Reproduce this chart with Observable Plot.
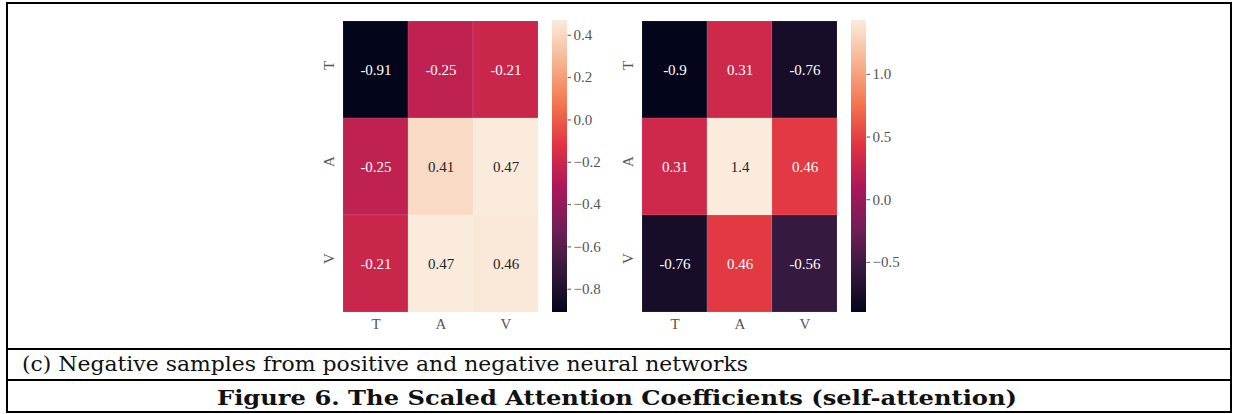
<!DOCTYPE html>
<html>
<head>
<meta charset="utf-8">
<script src="https://cdn.jsdelivr.net/npm/d3@7"></script>
<script src="https://cdn.jsdelivr.net/npm/@observablehq/plot@0.6"></script>
<style>
  html, body { margin: 0; padding: 0; background: #fff; }
  #page { position: relative; width: 1233px; height: 414px; overflow: hidden; }
  .line { position: absolute; background: #000; }
  #page svg text { font-family: "Liberation Serif", "Times New Roman", Tinos, serif !important; }
  #caption { position: absolute; left: 22px; top: 350px; font-family: "DejaVu Serif", serif; font-size: 21px; color: #111; white-space: nowrap; line-height: 29px; transform-origin: 0 50%; }
  #title { position: absolute; left: 0; top: 383px; font-family: "DejaVu Serif", serif; font-weight: bold; font-size: 21px; color: #111; white-space: nowrap; line-height: 30px; transform-origin: 0 50%; }
</style>
</head>
<body>
<div id="page">
  <div id="caption">(c) Negative samples from positive and negative neural networks</div>
  <div id="title">Figure 6. The Scaled Attention Coefficients (self-attention)</div>
  <div class="line" style="left:6px;top:2px;width:1226px;height:2px"></div>
  <div class="line" style="left:6px;top:2px;width:2px;height:411px"></div>
  <div class="line" style="left:1230px;top:2px;width:2px;height:411px"></div>
  <div class="line" style="left:6px;top:348px;width:1226px;height:2px"></div>
  <div class="line" style="left:6px;top:379px;width:1226px;height:2px"></div>
  <div class="line" style="left:6px;top:411px;width:1226px;height:2px"></div>
</div>
<script>
// ---- data ----
const rowLabels = ["T", "A", "V"];
const colLabels = ["T", "A", "V"];
// left panel
const panel1Values = [
  [-0.91, -0.25, -0.21],
  [-0.25,  0.41,  0.47],
  [-0.21,  0.47,  0.46]
];
// right panel
const panel2Values = [
  [-0.90,  0.31, -0.76],
  [ 0.31,  1.43,  0.46],
  [-0.76,  0.46, -0.56]
];
const panel1Ticks = [-0.8, -0.6, -0.4, -0.2, 0.0, 0.2, 0.4];
const panel2Ticks = [-0.5, 0.0, 0.5, 1.0];

// seaborn "rocket" colormap stops
const rocketStops = ["#03051a", "#35193e", "#701f57", "#ad1759", "#e13342", "#f37651", "#f6b48f", "#faebdd"];
const rocket = d3.piecewise(d3.interpolateRgb, rocketStops);

const annFmt = d3.formatLocale({decimal: ".", thousands: ",", grouping: [3], currency: ["", ""], minus: "-"}).format(".2~g");
const tickFmt = d3.format(".1f");
const serif = "Liberation Serif, Times New Roman, serif";

function lum(c) {
  const rgb = d3.rgb(c);
  const f = v => { v /= 255; return v <= 0.03928 ? v / 12.92 : Math.pow((v + 0.055) / 1.055, 2.4); };
  return 0.2126 * f(rgb.r) + 0.7152 * f(rgb.g) + 0.0722 * f(rgb.b);
}

const page = document.getElementById("page");
const cellW = 197, cellH = 292;

function place(node, left, top) {
  node.style.position = "absolute";
  node.style.left = left + "px";
  node.style.top = top + "px";
  page.appendChild(node);
}

function drawPanel(values, ticks, heatLeft, barLeft) {
  const table = [];
  values.forEach((row, i) => row.forEach((v, j) => table.push({row: rowLabels[i], col: colLabels[j], value: v})));
  const vmin = d3.min(table, d => d.value), vmax = d3.max(table, d => d.value);
  const color = {type: "linear", domain: [vmin, vmax], interpolate: rocket};
  const norm = v => (v - vmin) / (vmax - vmin);

  const mL = 30, mB = 28, mT = 2, mR = 2;
  const heat = Plot.plot({
    width: mL + cellW + mR,
    height: mT + cellH + mB,
    marginLeft: mL, marginRight: mR, marginTop: mT, marginBottom: mB,
    style: {fontFamily: serif, fontSize: "14.5px", background: "transparent"},
    x: {type: "band", domain: colLabels, padding: 0, axis: null},
    y: {type: "band", domain: rowLabels, padding: 0, axis: null},
    color,
    marks: [
      Plot.cell(table, {x: "col", y: "row", fill: "value", stroke: "#ffffff", strokeOpacity: 0.1, strokeWidth: 1}),
      Plot.text(table, {x: "col", y: "row", text: d => annFmt(d.value), fontFamily: serif,
        fill: d => lum(rocket(norm(d.value))) > 0.408 ? "#262626" : "#ffffff", fontSize: 15}),
      Plot.text(colLabels, {x: d => d, frameAnchor: "bottom", dy: 12, lineAnchor: "middle", fill: "#555555", fontSize: 15, fontFamily: serif}),
      Plot.text(rowLabels, {y: d => d, frameAnchor: "left", dx: -13, rotate: -90, fill: "#555555", fontSize: 15, fontFamily: serif})
    ]
  });
  place(heat, heatLeft - mL, 20 - mT);

  // colorbar
  const n = 300, step = (vmax - vmin) / n;
  const slices = d3.range(n).map(i => vmin + i * step);
  const bT = 6, bB = 6, bW = 14.5, bR = 45;
  const bar = Plot.plot({
    width: bW + bR,
    height: bT + cellH + bB,
    marginLeft: 0, marginRight: bR, marginTop: bT, marginBottom: bB,
    style: {fontFamily: serif, fontSize: "15px", background: "transparent", color: "#555555"},
    x: {domain: [0, 1], axis: null},
    y: {domain: [vmin, vmax]},
    color,
    marks: [
      Plot.rect(slices, {x1: 0, x2: 1, y1: d => d, y2: d => Math.min(vmax, d + step * 2), fill: d => d + step / 2, shapeRendering: "crispEdges"}),
      Plot.axisY({anchor: "right", ticks: ticks, tickFormat: tickFmt, tickSize: 3.5, tickPadding: 3, stroke: "#555555", fill: "#555555", label: null, fontSize: 15, fontFamily: serif})
    ]
  });
  place(bar, barLeft, 20 - bT);
}

drawPanel(panel1Values, panel1Ticks, 342, 552);
drawPanel(panel2Values, panel2Ticks, 641, 851);

// fit caption rows to the reference text extents
function fit(id, left, right) {
  const el = document.getElementById(id);
  const w = el.getBoundingClientRect().width;
  const s = (right - left) / w;
  el.style.left = left + "px";
  el.style.transform = `scaleX(${s})`;
}
fit("caption", 22, 748);
fit("title", 217, 1017);
</script>
</body>
</html>
